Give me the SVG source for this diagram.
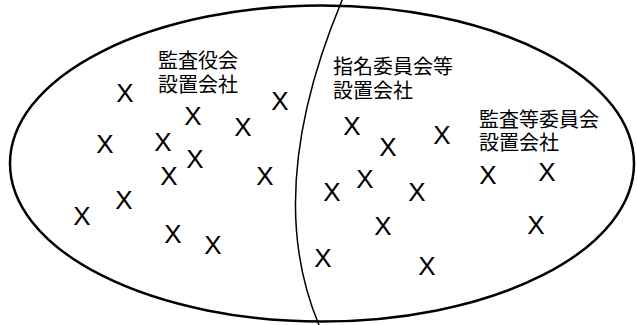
<svg xmlns="http://www.w3.org/2000/svg" width="637" height="325" viewBox="0 0 637 325">
<style>
.x{font-family:"Liberation Sans",Arial,sans-serif;font-size:26px;fill:#000;text-anchor:middle}
.lbl{font-family:"Noto Sans CJK JP","Noto Sans CJK SC",sans-serif;font-size:20px;fill:#000}
</style>
<rect width="637" height="325" fill="#fff"/>
<g id="universe">
<ellipse cx="322" cy="163.5" rx="312" ry="158" fill="none" stroke="#000" stroke-width="2.5"/>
</g>
<g id="connectors">
<path d="M343,-2 Q262,190 319,325" fill="none" stroke="#000" stroke-width="1.5"/>
</g>
<g id="label-kansayaku">
<text class="lbl" x="158" y="68">監査役会<tspan x="158" dy="24">設置会社</tspan></text>
</g>
<g id="label-shimei">
<text class="lbl" x="333" y="74">指名委員会等<tspan x="333" dy="24">設置会社</tspan></text>
</g>
<g id="label-kansato">
<text class="lbl" x="479" y="127">監査等委員会<tspan x="479" dy="23">設置会社</tspan></text>
</g>
<g id="marks">
<text class="x" x="125" y="102">X</text>
<text class="x" x="193" y="124.5">X</text>
<text class="x" x="280" y="109.5">X</text>
<text class="x" x="243" y="135.5">X</text>
<text class="x" x="105" y="152.5">X</text>
<text class="x" x="163" y="150.5">X</text>
<text class="x" x="195" y="167.5">X</text>
<text class="x" x="169" y="184.5">X</text>
<text class="x" x="265" y="184.5">X</text>
<text class="x" x="124" y="208.5">X</text>
<text class="x" x="82" y="224.5">X</text>
<text class="x" x="173" y="242.5">X</text>
<text class="x" x="213" y="253.5">X</text>
<text class="x" x="352" y="134.5">X</text>
<text class="x" x="388" y="155.5">X</text>
<text class="x" x="442" y="143.5">X</text>
<text class="x" x="365" y="187.5">X</text>
<text class="x" x="332" y="200.5">X</text>
<text class="x" x="417" y="200.5">X</text>
<text class="x" x="488" y="183.5">X</text>
<text class="x" x="547" y="180.5">X</text>
<text class="x" x="383" y="234.5">X</text>
<text class="x" x="536" y="233.5">X</text>
<text class="x" x="323" y="266.5">X</text>
<text class="x" x="427" y="274.5">X</text>
</g>
</svg>
